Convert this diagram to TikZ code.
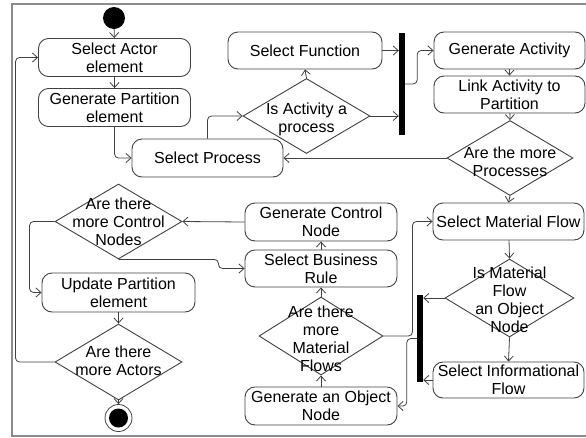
\documentclass[tikz,border=0pt]{standalone}
\usepackage{fontspec}
\setmainfont{Liberation Sans}
\usetikzlibrary{arrows.meta,shapes.geometric}
\definecolor{linec}{HTML}{404040}
\definecolor{framec}{HTML}{8C8C8C}
\begin{document}
\begin{tikzpicture}[x=1pt,y=-1pt,
 every node/.style={font=\fontsize{16}{18}\selectfont},
 act/.style={draw=linec, rounded corners=10pt, line width=0.9pt, align=center, inner sep=0pt, minimum width=152pt, minimum height=38pt},
 dia/.style={draw=linec, diamond, line width=0.9pt, inner sep=0pt},
 dtext/.style={align=center, inner sep=0pt},
 bar/.style={fill=black, inner sep=0pt},
 arr/.style={draw=linec, line width=0.8pt, -{Straight Barb[length=5pt,width=9pt]}, rounded corners=4pt}
]
\useasboundingbox (0,0) rectangle (586,437);
\draw[framec, line width=1.5pt] (592,4) -- (12,4) -- (12,436) -- (592,436);

% nodes
\node[circle, fill=black, minimum size=22pt, inner sep=0pt] (start) at (114,18) {};
\node[act] (actor) at (114.5,57.5) {Select Actor\\element};
\node[act] (genpart) at (114.5,107.5) {Generate Partition\\element};
\node[act, minimum width=151pt] (selproc) at (207.5,158) {Select Process};
\node[act, minimum width=154pt, minimum height=37pt] (selfunc) at (305,50.5) {Select Function};
\node[dia, minimum width=127pt, minimum height=75pt] (isact) at (306.5,116) {};
\node[dtext] (isact-t) at (306.5,119) {Is Activity a\\process};
\node[bar, minimum width=6pt, minimum height=102pt] (bar1) at (402,84) {};
\node[act, minimum width=151pt, minimum height=37pt] (genact) at (509.5,50.5) {Generate Activity};
\node[act, minimum width=151pt, minimum height=37pt] (link) at (509.5,94.5) {Link Activity to\\Partition};
\node[dia, minimum width=126pt, minimum height=75pt] (morproc) at (510,158) {};
\node[dtext] (morproc-t) at (510,162) {Are the more\\Processes};
\node[act, minimum width=151pt, minimum height=37pt] (selmat) at (508.5,221.5) {Select Material Flow};
\node[dia, minimum width=129pt, minimum height=78pt] (ismat) at (509.5,298) {};
\node[dtext] (ismat-t) at (509.5,300) {Is Material\\Flow\\an Object\\Node};
\node[act, minimum width=151pt, minimum height=36pt] (selinf) at (508.5,380) {Select Informational\\Flow};
\node[bar, minimum width=6pt, minimum height=87pt] (bar2) at (420,338.5) {};
\node[act] (genobj) at (321,406) {Generate an Object\\Node};
\node[dia, minimum width=124pt, minimum height=78pt] (morflow) at (321,336) {};
\node[dtext] (morflow-t) at (321,339) {Are there\\more\\Material\\Flows};
\node[act, minimum height=37pt] (sbr) at (321,268.5) {Select Business\\Rule};
\node[act] (gcn) at (321,222) {Generate Control\\Node};
\node[dia, minimum width=127pt, minimum height=75pt] (morctrl) at (118.5,221.5) {};
\node[dtext] (morctrl-t) at (118.5,221.5) {Are there\\more Control\\Nodes};
\node[act, minimum width=153pt, minimum height=39pt] (updpart) at (118.5,292.5) {Update Partition\\element};
\node[dia, minimum width=127pt, minimum height=76pt] (moract) at (118.5,362) {};
\node[dtext] (moract-t) at (118.5,361) {Are there\\more Actors};
\node[circle, draw=linec, line width=0.8pt, minimum size=27pt, inner sep=0pt] (end) at (118.5,418) {};
\node[circle, fill=black, minimum size=19pt, inner sep=0pt] (endin) at (end) {};

% connectors
\draw[arr] (start) -- (actor);
\draw[arr] (actor) -- (genpart);
\draw[arr] (genpart.south) |- (selproc.west);
\draw[arr] (selproc.north) |- (isact.west);
\draw[arr] (isact.north) -- (selfunc.south);
\draw[arr] (selfunc.east) -- (selfunc.east -| bar1.west);
\draw[arr] (isact.east) -- (isact.east -| bar1.west);
\draw[arr] (bar1.east) -- ++(12,0) |- (genact.west);
\draw[arr] (genact) -- (link);
\draw[arr] (link) -- (morproc.north);
\draw[arr] (morproc.west) -- (selproc.east);
\draw[arr] (morproc.south) -- (selmat.north);
\draw[arr] (selmat) -- (ismat.north);
\draw[arr] (ismat.west) -- (ismat.west -| bar2.east);
\draw[arr] (ismat.south) -- (selinf.north);
\draw[arr] (selinf.west) -- (selinf.west -| bar2.east);
\draw[arr] (bar2.west) -- ++(-10,0) |- (genobj.east);
\draw[arr] (genobj.north) -- (morflow.south);
\draw[arr] (morflow.north) -- (sbr.south);
\draw[arr] (morflow.east) -- ++(29,0) |- (selmat.west);
\draw[arr] (sbr) -- (gcn);
\draw[arr] (gcn.west) -- (morctrl.east);
\draw[arr] (morctrl.west) -- ++(-25,0) |- (updpart.west);
\draw[arr] (morctrl.south) -- ++(100,0) |- (sbr.west);
\draw[arr] (updpart) -- (moract.north);
\draw[arr] (moract.west) -- ++(-39,0) |- (actor.west);
\draw[arr] (moract.south) -- (end);
\end{tikzpicture}
\end{document}
